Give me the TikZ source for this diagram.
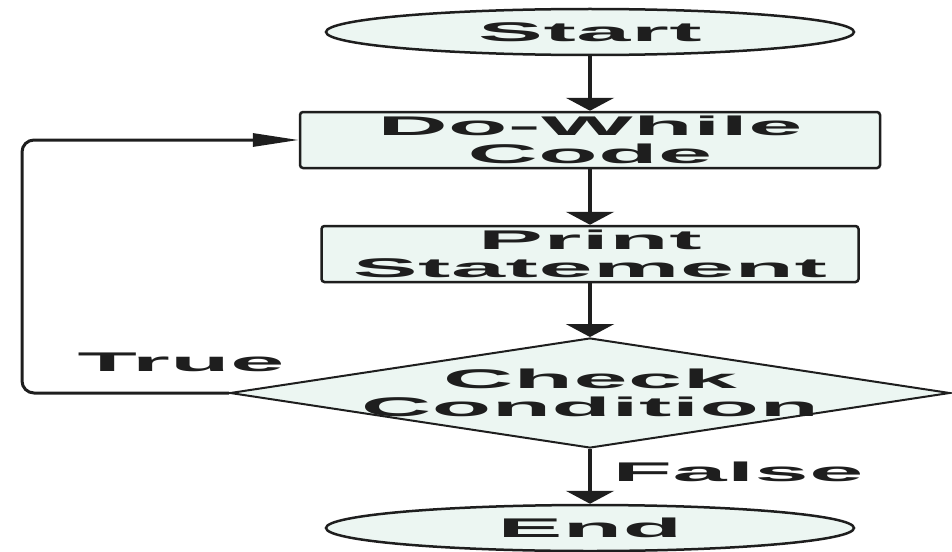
\documentclass[tikz,border=0pt]{standalone}
\usepackage{fontspec}
\newfontfamily\flowfont[FakeStretch=3.6,LetterSpace=2]{Liberation Sans}
\usetikzlibrary{positioning,shapes.geometric,arrows.meta}
\definecolor{boxfill}{RGB}{236,246,242}
\definecolor{inkgray}{RGB}{30,30,30}

\begin{document}
\begin{tikzpicture} [auto, node distance=112pt, x=1pt, y=1pt,
                    font=\flowfont\bfseries\fontsize{27}{28}\selectfont, text=inkgray,
                    term/.style={ellipse,draw=inkgray,line width=2.5pt,fill=boxfill,minimum width=528pt,minimum height=46pt,inner sep=0pt},
                    stepbox/.style={rectangle,rounded corners=3pt,draw=inkgray,line width=2.5pt,fill=boxfill,align=center,minimum height=56pt,inner sep=0pt},
                    decide/.style={diamond,draw=inkgray,line width=2pt,fill=boxfill,aspect=6.5,minimum width=720pt,minimum height=110pt,inner sep=0pt},
                    flowline/.style={draw=inkgray,line width=4pt,-{Triangle[length=13pt,width=48pt]}},
                    backline/.style={draw=inkgray,line width=3pt,rounded corners=12pt,-{Triangle[length=46pt,width=13pt]}}]

\useasboundingbox (0,0) rectangle (952,-551);

\node[term] (start) at (590,-32) {Start};
\node[stepbox,minimum width=580pt] (dowhile) [below of=start, node distance=108pt] {Do-While\\Code};
\node[stepbox,minimum width=537pt] (print) [below of=dowhile, node distance=114pt] {Print\\Statement};
\node[decide,label={[align=center,name=checktext]center:Check\\Condition}] (check) [below of=print, node distance=139pt] {};
\node[term] (end) [below of=check, node distance=135pt] {End};

\coordinate (loopx) at (22,0);
\node (truelbl) at (181,-362) {True};
\node (falselbl) at (738,-472) {False};

\path[flowline] (start) -- (dowhile);
\path[flowline] (dowhile) -- (print);
\path[flowline] (print) -- (check);
\path[flowline] (check) -- (end);
\path[backline] (check.west) -- (check.west -| loopx) |- (dowhile.west);
\end{tikzpicture}
\end{document}
